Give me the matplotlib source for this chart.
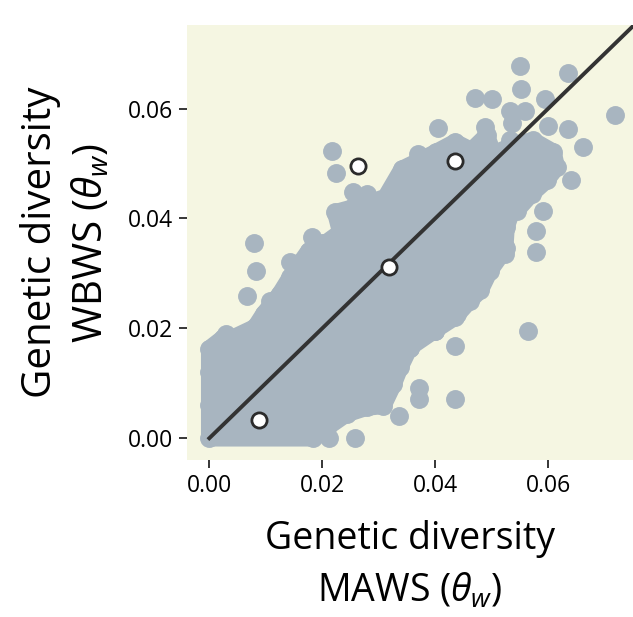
import numpy as np
import matplotlib
matplotlib.use("Agg")
import matplotlib.pyplot as plt

plt.rcParams['font.family'] = ['Open Sans', 'DejaVu Sans']
plt.rcParams['mathtext.fontset'] = 'custom'
plt.rcParams['mathtext.rm'] = 'Open Sans'
plt.rcParams['mathtext.it'] = 'Open Sans:italic'

# dense core of the cloud: outline of per-window theta_w (MAWS, WBWS)
core_maws = [0.0000, 0.0184, 0.0208, 0.0243, 0.0279, 0.0308, 0.0326, 0.0338,
             0.0355, 0.0399, 0.0435, 0.0461, 0.0480, 0.0497, 0.0526, 0.0523,
             0.0526, 0.0538, 0.0544, 0.0571, 0.0597, 0.0615, 0.0609, 0.0573,
             0.0544, 0.0503, 0.0491, 0.0464, 0.0435, 0.0402, 0.0373, 0.0341,
             0.0312, 0.0288, 0.0255, 0.0223, 0.0232, 0.0196, 0.0176, 0.0143,
             0.0125, 0.0096, 0.0081, 0.0042, 0.0025, 0.0000]
core_wbws = [0.0000, 0.0000, 0.0019, 0.0044, 0.0056, 0.0059, 0.0098, 0.0129,
             0.0165, 0.0196, 0.0220, 0.0250, 0.0269, 0.0305, 0.0347, 0.0335,
             0.0384, 0.0420, 0.0414, 0.0445, 0.0469, 0.0493, 0.0521, 0.0542,
             0.0536, 0.0518, 0.0551, 0.0524, 0.0539, 0.0521, 0.0506, 0.0490,
             0.0439, 0.0430, 0.0420, 0.0411, 0.0375, 0.0348, 0.0341, 0.0293,
             0.0263, 0.0226, 0.0202, 0.0183, 0.0183, 0.0163]

# scattered windows outside the core
out_maws = [0.0550, 0.0635, 0.0551, 0.0470, 0.0500, 0.0594, 0.0532, 0.0559,
            0.0718, 0.0535, 0.0600, 0.0635, 0.0405, 0.0488, 0.0488, 0.0662,
            0.0217, 0.0370, 0.0224, 0.0641, 0.0254, 0.0591, 0.0579, 0.0578,
            0.0565, 0.0435, 0.0435, 0.0372, 0.0372, 0.0335, 0.0258, 0.0212,
            0.0080, 0.0083, 0.0066, 0.0142, 0.0182, 0.0553, 0.0557, 0.0533,
            0.0522, 0.0438, 0.0399, 0.0355, 0.0108, 0.0160, 0.0200, 0.0280,
            0.0030, 0.0000, 0.0000]
out_wbws = [0.0677, 0.0664, 0.0636, 0.0620, 0.0618, 0.0618, 0.0595, 0.0595,
            0.0588, 0.0574, 0.0569, 0.0563, 0.0565, 0.0566, 0.0549, 0.0530,
            0.0522, 0.0518, 0.0483, 0.0469, 0.0448, 0.0414, 0.0378, 0.0338,
            0.0196, 0.0168, 0.0072, 0.0092, 0.0071, 0.0041, 0.0001, 0.0001,
            0.0355, 0.0304, 0.0259, 0.0320, 0.0366, 0.0518, 0.0493, 0.0542,
            0.0500, 0.0226, 0.0196, 0.0165, 0.0250, 0.0310, 0.0355, 0.0445,
            0.0190, 0.0120, 0.0060]

# highlighted windows
hi_maws = [0.0088, 0.0263, 0.0318, 0.0435]
hi_wbws = [0.0033, 0.0495, 0.0312, 0.0504]

grey = '#a8b5c0'

fig = plt.figure(figsize=(6.33, 6.17), dpi=100)
ax = fig.add_axes([0.2954, 0.2545, 0.7046, 0.7050])
ax.set_facecolor('#f5f6e2')

ax.fill(core_maws, core_wbws, color=grey, lw=12, joinstyle='round', zorder=1)
ax.scatter(core_maws, core_wbws, s=185, color=grey, lw=0, zorder=1)
ax.scatter(out_maws, out_wbws, s=185, color=grey, lw=0, zorder=1)

ax.plot([0, 0.08], [0, 0.08], color='#333333', lw=2.8, zorder=2)
ax.scatter(hi_maws, hi_wbws, s=120, facecolor='white', edgecolor='#2b2b2b',
           lw=2, zorder=3)

ax.set_xlim(-0.00395, 0.075)
ax.set_ylim(-0.00396, 0.0752)
ax.set_xticks([0, 0.02, 0.04, 0.06])
ax.set_yticks([0, 0.02, 0.04, 0.06])
ax.set_xticklabels(['0.00', '0.02', '0.04', '0.06'])
ax.set_yticklabels(['0.00', '0.02', '0.04', '0.06'])
for s in ax.spines.values():
    s.set_visible(False)
ax.tick_params(length=6, width=1.1, labelsize=16.5, pad=4)

ax.set_xlabel('Genetic diversity\nMAWS ($\\theta_w$)', fontsize=27,
              labelpad=16, linespacing=1.45)
ax.set_ylabel('Genetic diversity\nWBWS ($\\theta_w$)', fontsize=29,
              labelpad=11, linespacing=1.3)

fig.savefig('out.png', dpi=100)
